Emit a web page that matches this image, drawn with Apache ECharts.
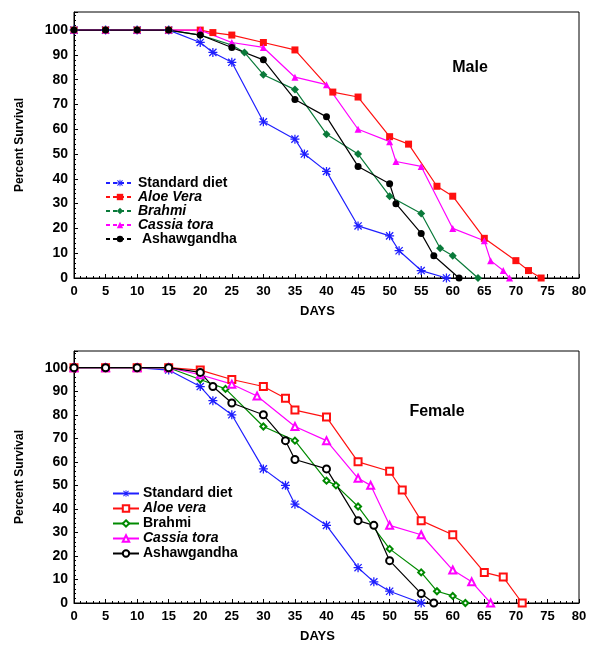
<!DOCTYPE html>
<html>
<head>
<meta charset="utf-8">
<script src="https://cdn.jsdelivr.net/npm/echarts@6/dist/echarts.min.js"></script>
<style>
html,body{margin:0;padding:0;background:#fff;}
#c1{position:absolute;left:0;top:0;width:594px;height:325px;}
#c2{position:absolute;left:0;top:325px;width:594px;height:323px;}
</style>
</head>
<body>
<div id="c1"></div>
<div id="c2"></div>
<script>
// ---------- data ----------
const xTicks = [0,5,10,15,20,25,30,35,40,45,50,55,60,65,70,75,80];
const yTicks = [0,10,20,30,40,50,60,70,80,90,100];

// Male
const maleNames = ['Standard diet','Aloe Vera','Brahmi','Cassia tora',' Ashawgandha'];
const maleItalic = ['Aloe Vera','Brahmi','Cassia tora'];
const mStdDays   = [0,5,10,15,20,22,25,30,35,36.5,40,45,50,51.5,55,59];
const mStdSurv   = [100,100,100,100,95,91,87,63,56,50,43,21,17,11,3,0];
const mAloeDays  = [0,5,10,15,20,22,25,30,35,41,45,50,53,57.5,60,65,70,72,74];
const mAloeSurv  = [100,100,100,100,100,99,98,95,92,75,73,57,54,37,33,16,7,3,0];
const mBrahDays  = [0,5,10,15,20,25,27,30,35,40,45,50,55,58,60,64];
const mBrahSurv  = [100,100,100,100,98,94,91,82,76,58,50,33,26,12,9,0];
const mCassDays  = [0,5,10,15,20,25,30,35,40,45,50,51,55,60,65,66,68,69];
const mCassSurv  = [100,100,100,100,100,95,93,81,78,60,55,47,45,20,15,7,3,0];
const mAshDays   = [0,5,10,15,20,25,30,35,40,45,50,51,55,57,61];
const mAshSurv   = [100,100,100,100,98,93,88,72,65,45,38,30,18,9,0];

// Female
const femaleNames = ['Standard diet','Aloe vera','Brahmi','Cassia tora','Ashawgandha'];
const femaleItalic = ['Aloe vera','Cassia tora'];
const fStdDays   = [0,5,10,15,20,22,25,30,33.5,35,40,45,47.5,50,55];
const fStdSurv   = [100,100,100,99,92,86,80,57,50,42,33,15,9,5,0];
const fAloeDays  = [0,5,10,15,20,25,30,33.5,35,40,45,50,52,55,60,65,68,71];
const fAloeSurv  = [100,100,100,100,99,95,92,87,82,79,60,56,48,35,29,13,11,0];
const fBrahDays  = [0,5,10,15,20,24,30,35,40,41.5,45,50,55,57.5,60,62];
const fBrahSurv  = [100,100,100,100,95,91,75,69,52,50,41,23,13,5,3,0];
const fCassDays  = [0,5,10,15,20,25,29,35,40,45,47,50,55,60,63,66];
const fCassSurv  = [100,100,100,100,97,93,88,75,69,53,50,33,29,14,9,0];
const fAshDays   = [0,5,10,15,20,22,25,30,33.5,35,40,45,47.5,50,55,57];
const fAshSurv   = [100,100,100,100,98,92,85,80,69,61,57,35,33,18,4,0];

// ---------- helpers ----------
const FONT = 'Liberation Sans';
const ASTERISK = 'path://M4.3 0L5.7 0L5.7 10L4.3 10Z M0 4.3L10 4.3L10 5.7L0 5.7Z M1.5 0.5L9.5 8.5L8.5 9.5L0.5 1.5Z M8.5 0.5L9.5 1.5L1.5 9.5L0.5 8.5Z';
function pairs(d, s){ return d.map((x,i)=>[x, s[i]]); }

function axes(yTop){
  return {
    xAxis: {
      type:'value', min:xTicks[0], max:xTicks[xTicks.length-1], interval:5,
      axisLine:{show:true, lineStyle:{color:'#000', width:1}},
      axisTick:{show:true, inside:true, length:4, lineStyle:{color:'#000'}},
      minorTick:{show:true, splitNumber:5, length:2, lineStyle:{color:'#000'}},
      splitLine:{show:false},
      axisLabel:{color:'#000', fontFamily:FONT, fontWeight:'bold', fontSize:13, margin:7},
      name:'DAYS', nameLocation:'middle', nameGap:27,
      nameTextStyle:{color:'#000', fontFamily:FONT, fontWeight:'bold', fontSize:13, padding:[0,18,0,0]}
    },
    yAxis: {
      type:'value', min:0, max:yTop, interval:10,
      axisLine:{show:true, lineStyle:{color:'#000', width:1}},
      axisTick:{show:true, inside:true, length:4, lineStyle:{color:'#000'}},
      minorTick:{show:true, splitNumber:5, length:2, lineStyle:{color:'#000'}},
      splitLine:{show:false},
      axisLabel:{color:'#000', fontFamily:FONT, fontWeight:'bold', fontSize:14, margin:6,
        formatter:v => (yTicks.indexOf(Math.round(v*1000)/1000) >= 0 ? String(v) : '')},
      name:'Percent Survival', nameLocation:'middle', nameRotate:90, nameGap:48,
      nameTextStyle:{color:'#000', fontFamily:FONT, fontWeight:'bold', fontSize:12}
    }
  };
}

function legendCfg(names, italics, left, top, itemWidth, lh, dashed){
  const cfg = {
    orient:'vertical', left:left, top:top, itemWidth:itemWidth, itemHeight:8, itemGap:0,
    padding:0,
    data:names,
    formatter: n => (italics.indexOf(n) >= 0 ? '{i|' + n + '}' : '{n|' + n + '}'),
    textStyle:{color:'#000', fontFamily:FONT, fontWeight:'bold', fontSize:14, lineHeight:lh, padding:[0,0,0,-1],
      rich:{
        i:{fontStyle:'italic', fontWeight:'bold', fontFamily:FONT, fontSize:14, lineHeight:lh, color:'#000'},
        n:{fontWeight:'bold', fontFamily:FONT, fontSize:14, lineHeight:lh, color:'#000'}
      }}
  };
  if (dashed) cfg.lineStyle = {type:[4,3]};
  return cfg;
}

function ser(name, data, color, symbol, size){
  return {
    type:'line', name:name, data:data, symbol:symbol, symbolSize:size,
    lineStyle:{color:color, width:1.2}, itemStyle:{color:color, borderColor:color, borderWidth: symbol.indexOf('empty')===0 ? 1.3 : 0},
    animation:false, clip:false
  };
}

// ---------- Male ----------
const c1 = echarts.init(document.getElementById('c1'), null, {renderer:'canvas'});
const a1 = axes(107.3);
c1.setOption({
  animation:false,
  grid:{left:74, top:12, width:505, height:266, show:true, borderColor:'#000', borderWidth:1, containLabel:false},
  xAxis:a1.xAxis, yAxis:a1.yAxis,
  legend: legendCfg(maleNames, maleItalic, 105, 176, 28, 14, true),
  graphic:[{type:'text', x:470, y:68, style:{text:'Male', fill:'#000', font:'bold 16px "Liberation Sans"', textAlign:'center', textVerticalAlign:'middle'}}],
  series:[
    ser(maleNames[0], pairs(mStdDays, mStdSurv), '#1f1fff', ASTERISK, 9),
    ser(maleNames[1], pairs(mAloeDays, mAloeSurv), '#ff1010', 'rect', 7),
    ser(maleNames[2], pairs(mBrahDays, mBrahSurv), '#0a7a3a', 'diamond', 8),
    ser(maleNames[3], pairs(mCassDays, mCassSurv), '#ff00ff', 'triangle', 7),
    ser(maleNames[4], pairs(mAshDays, mAshSurv), '#000000', 'circle', 7)
  ]
});

// ---------- Female ----------
const c2 = echarts.init(document.getElementById('c2'), null, {renderer:'canvas'});
const a2 = axes(107.1);
c2.setOption({
  animation:false,
  grid:{left:74, top:26, width:505, height:257, show:true, borderColor:'#000', borderWidth:1, containLabel:false},
  xAxis:a2.xAxis, yAxis:a2.yAxis,
  legend: legendCfg(femaleNames, femaleItalic, 112, 161, 26, 15, false),
  graphic:[{type:'text', x:437, y:87, style:{text:'Female', fill:'#000', font:'bold 16px "Liberation Sans"', textAlign:'center', textVerticalAlign:'middle'}}],
  series:[
    ser(femaleNames[0], pairs(fStdDays, fStdSurv), '#1f1fff', ASTERISK, 9),
    ser(femaleNames[1], pairs(fAloeDays, fAloeSurv), '#ff1010', 'emptyRect', 7),
    ser(femaleNames[2], pairs(fBrahDays, fBrahSurv), '#008a00', 'emptyDiamond', 6),
    ser(femaleNames[3], pairs(fCassDays, fCassSurv), '#ff00ff', 'emptyTriangle', 7),
    ser(femaleNames[4], pairs(fAshDays, fAshSurv), '#000000', 'emptyCircle', 7)
  ]
});
</script>
</body>
</html>
